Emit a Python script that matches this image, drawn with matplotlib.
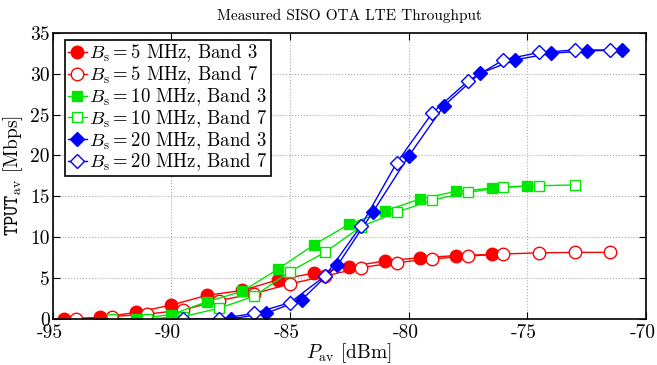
import matplotlib
matplotlib.use("Agg")
import matplotlib.pyplot as plt
import matplotlib.transforms as mtransforms

plt.rcParams["font.family"] = "serif"
plt.rcParams["font.serif"] = ["cmr10"]
plt.rcParams["mathtext.fontset"] = "cm"
plt.rcParams["axes.unicode_minus"] = False

# 5 MHz
p_5_b3 = [-96, -94.5, -93, -91.5, -90, -88.5, -87, -85.5, -84, -82.5, -81, -79.5, -78, -76.5]
t_5_b3 = [0, 0, 0.2, 0.8, 1.7, 2.9, 3.5, 4.8, 5.6, 6.4, 7.1, 7.5, 7.75, 7.9]
p_5_b7 = [-94, -92.5, -91, -89.5, -88, -86.5, -85, -83.5, -82, -80.5, -79, -77.5, -76, -74.5, -73, -71.5]
t_5_b7 = [0, 0.3, 0.6, 1.1, 2.25, 3.1, 4.3, 5.25, 6.3, 6.9, 7.35, 7.7, 7.95, 8.1, 8.15, 8.15]

# 10 MHz
p_10_b3 = [-91.5, -90, -88.5, -87, -85.5, -84, -82.5, -81, -79.5, -78, -76.5, -75]
t_10_b3 = [0, 0.55, 2.1, 3.4, 6.1, 9.05, 11.6, 13.2, 14.7, 15.6, 16.0, 16.3]
p_10_b7 = [-92.5, -91, -89.5, -88, -86.5, -85, -83.5, -82, -80.5, -79, -77.5, -76, -74.5, -73]
t_10_b7 = [0, 0, 0.3, 1.3, 2.8, 5.8, 8.2, 11.3, 13.05, 14.55, 15.5, 16.1, 16.3, 16.4]

# 20 MHz
p_20_b3 = [-87.5, -86, -84.5, -83, -81.5, -80, -78.5, -77, -75.5, -74, -72.5, -71]
t_20_b3 = [0, 0.7, 2.35, 6.55, 13.1, 19.9, 26.1, 30.05, 31.7, 32.5, 32.8, 32.9]
p_20_b7 = [-89.5, -88, -86.5, -85, -83.5, -82, -80.5, -79, -77.5, -76, -74.5, -73, -71.5]
t_20_b7 = [0, 0, 0.7, 2.0, 5.3, 11.4, 19.1, 25.2, 29.1, 31.7, 32.6, 32.9, 32.9]

red = "#ff0000"
green = "#00e600"
blue = "#0000ff"

fig = plt.figure(figsize=(6.57, 3.65), dpi=100)
ax = fig.add_axes([0.080, 0.126, 0.903, 0.784])

ax.plot(p_5_b3, t_5_b3, "-o", color=red, mfc=red, ms=9, lw=1,
        label=r"$B_{\mathrm{s}} = 5$ MHz, Band 3")
ax.plot(p_5_b7, t_5_b7, "-o", color=red, mfc="white", ms=9, lw=1,
        label=r"$B_{\mathrm{s}} = 5$ MHz, Band 7")
ax.plot(p_10_b3, t_10_b3, "-s", color=green, mfc=green, ms=7, lw=1,
        label=r"$B_{\mathrm{s}} = 10$ MHz, Band 3")
ax.plot(p_10_b7, t_10_b7, "-s", color=green, mfc="white", ms=7, lw=1,
        label=r"$B_{\mathrm{s}} = 10$ MHz, Band 7")
ax.plot(p_20_b3, t_20_b3, "-D", color=blue, mfc=blue, ms=7.5, lw=1,
        label=r"$B_{\mathrm{s}} = 20$ MHz, Band 3")
ax.plot(p_20_b7, t_20_b7, "-D", color=blue, mfc="white", ms=7.5, lw=1,
        label=r"$B_{\mathrm{s}} = 20$ MHz, Band 7")

ax.set_xlim(-95, -70)
ax.set_ylim(0, 35)
ax.set_xticks(range(-95, -69, 5))
ax.set_yticks(range(0, 36, 5))
ax.grid(True, linestyle=":", color="#aaaaaa", lw=0.8)
ax.tick_params(direction="in", top=True, right=True, labelsize=14, length=5)
ax.tick_params(axis="y", pad=2)
ax.tick_params(axis="x", pad=4)
shift = mtransforms.ScaledTranslation(-3 / 100, 0, fig.dpi_scale_trans)
for lbl in ax.get_xticklabels():
    lbl.set_transform(lbl.get_transform() + shift)
for s in ax.spines.values():
    s.set_linewidth(1.2)

ax.set_xlabel(r"$P_{\mathrm{av}}$ [dBm]", fontsize=14, labelpad=-1)
ax.set_ylabel(r"$\mathtt{TPUT}_{\mathrm{av}}$ [Mbps]", fontsize=14, labelpad=4)
ax.set_title("Measured SISO OTA LTE Throughput", fontsize=11, pad=9)

leg = ax.legend(loc="upper left", bbox_to_anchor=(12.5 / 594, 1 - 7 / 286),
                borderaxespad=0, fontsize=13.5, labelspacing=0.0,
                handlelength=1.0, handletextpad=0.15, borderpad=0.15,
                fancybox=False, framealpha=1)
leg.get_frame().set_edgecolor("black")
leg.get_frame().set_linewidth(1.2)

fig.savefig("out.png", dpi=100)
